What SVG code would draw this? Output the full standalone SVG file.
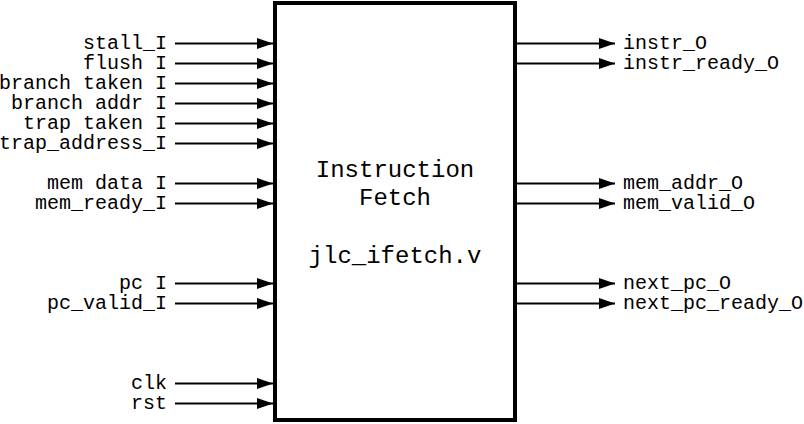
<svg xmlns="http://www.w3.org/2000/svg" width="804" height="424" viewBox="0 0 804 424">
<style>
text{font-family:"Liberation Mono","Courier New",monospace;fill:#000}
.l{font-size:20px;text-anchor:end}
.r{font-size:20px;text-anchor:start}
.c{font-size:24px;text-anchor:middle}
.w{stroke:#000;stroke-width:2;fill:none}
</style>
<defs>
<marker id="ah" markerUnits="userSpaceOnUse" markerWidth="16" markerHeight="12" refX="16" refY="6" orient="auto">
<path d="M0,0.5 L16,6 L0,11.5 Z" fill="#000"/>
</marker>
</defs>
<g id="block">
<rect x="275" y="3" width="240" height="417" fill="#fff" stroke="#000" stroke-width="4"/>
<text class="c" x="395" y="177">Instruction</text>
<text class="c" x="395" y="205">Fetch</text>
<text class="c" x="395" y="263">jlc_ifetch.v</text>
</g>
<g id="connectors">
<line class="w" x1="175" y1="43.5" x2="273" y2="43.5" marker-end="url(#ah)"/>
<line class="w" x1="175" y1="63.5" x2="273" y2="63.5" marker-end="url(#ah)"/>
<line class="w" x1="175" y1="83.5" x2="273" y2="83.5" marker-end="url(#ah)"/>
<line class="w" x1="175" y1="103.5" x2="273" y2="103.5" marker-end="url(#ah)"/>
<line class="w" x1="175" y1="123.5" x2="273" y2="123.5" marker-end="url(#ah)"/>
<line class="w" x1="175" y1="143.5" x2="273" y2="143.5" marker-end="url(#ah)"/>
<line class="w" x1="175" y1="183.5" x2="273" y2="183.5" marker-end="url(#ah)"/>
<line class="w" x1="175" y1="203.5" x2="273" y2="203.5" marker-end="url(#ah)"/>
<line class="w" x1="175" y1="283.5" x2="273" y2="283.5" marker-end="url(#ah)"/>
<line class="w" x1="175" y1="303.5" x2="273" y2="303.5" marker-end="url(#ah)"/>
<line class="w" x1="175" y1="383.5" x2="273" y2="383.5" marker-end="url(#ah)"/>
<line class="w" x1="175" y1="403.5" x2="273" y2="403.5" marker-end="url(#ah)"/>
<line class="w" x1="517" y1="43.5" x2="615" y2="43.5" marker-end="url(#ah)"/>
<line class="w" x1="517" y1="63.5" x2="615" y2="63.5" marker-end="url(#ah)"/>
<line class="w" x1="517" y1="183.5" x2="615" y2="183.5" marker-end="url(#ah)"/>
<line class="w" x1="517" y1="203.5" x2="615" y2="203.5" marker-end="url(#ah)"/>
<line class="w" x1="517" y1="283.5" x2="615" y2="283.5" marker-end="url(#ah)"/>
<line class="w" x1="517" y1="303.5" x2="615" y2="303.5" marker-end="url(#ah)"/>
</g>
<g id="inputs">
<text class="l" x="167" y="49">stall_I</text>
<text class="l" x="167" y="69">flush I</text>
<text class="l" x="167" y="89">branch taken I</text>
<text class="l" x="167" y="109">branch addr I</text>
<text class="l" x="167" y="129">trap taken I</text>
<text class="l" x="167" y="149">trap_address_I</text>
<text class="l" x="167" y="189">mem data I</text>
<text class="l" x="167" y="209">mem_ready_I</text>
<text class="l" x="167" y="289">pc I</text>
<text class="l" x="167" y="309">pc_valid_I</text>
<text class="l" x="167" y="389">clk</text>
<text class="l" x="167" y="409">rst</text>
</g>
<g id="outputs">
<text class="r" x="623" y="49">instr_O</text>
<text class="r" x="623" y="69">instr_ready_O</text>
<text class="r" x="623" y="189">mem_addr_O</text>
<text class="r" x="623" y="209">mem_valid_O</text>
<text class="r" x="623" y="289">next_pc_O</text>
<text class="r" x="623" y="309">next_pc_ready_O</text>
</g>
</svg>
